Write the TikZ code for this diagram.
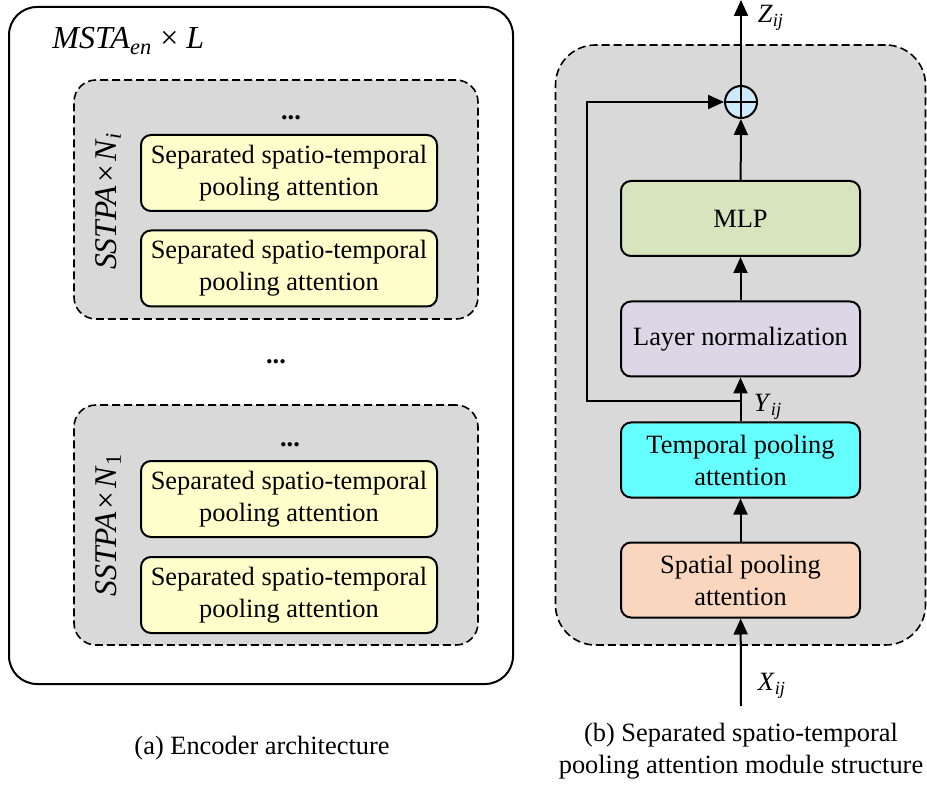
\documentclass[tikz,border=0pt]{standalone}
\usepackage{fontspec}
\setmainfont{Liberation Serif}
\usetikzlibrary{arrows.meta,positioning}

\definecolor{grpgray}{HTML}{D9D9D9}
\definecolor{poolyellow}{HTML}{FFFFCC}
\definecolor{mlpgreen}{HTML}{D7E4BD}
\definecolor{normlilac}{HTML}{DCD7E6}
\definecolor{tempcyan}{HTML}{66FFFF}
\definecolor{spatpeach}{HTML}{F9D6BD}
\definecolor{addblue}{HTML}{CCEBFF}

\newcommand{\itsub}[2]{\textit{#1}\textsubscript{\textit{#2}}}
\newcommand{\bodyfont}{\fontsize{13.2}{16}\selectfont}

\tikzset{
  poolbox/.style={draw, line width=1pt, rounded corners=5pt, fill=poolyellow,
    minimum width=148pt, minimum height=38pt, align=center, font=\bodyfont},
  modbox/.style={draw, line width=1pt, rounded corners=5pt,
    minimum width=119.5pt, minimum height=37.5pt, align=center, font=\bodyfont},
  grpbox/.style={draw, line width=0.8pt, dash pattern=on 4pt off 2pt, fill=grpgray,
    rounded corners=11pt},
  flow/.style={line width=1pt, -{Triangle[length=8pt,width=7pt]}},
  lbl/.style={font=\bodyfont, inner sep=1pt}
}

\begin{document}
\begin{tikzpicture}[x=0.5pt,y=-0.5pt]
	\useasboundingbox (0,0) rectangle (927,786);
	
	% (a) encoder
	\node[draw, line width=1pt, rounded corners=14pt, minimum width=252pt, minimum height=338.5pt] (enc) at (261,345.5) {};
	\node[anchor=base west, font=\fontsize{16}{19}\selectfont, inner sep=0pt] (msta) at (52,49)
		{\itsub{MSTA}{en}\hspace{0.25em}×\hspace{0.25em}\textit{L}};
	
	\node[grpbox, minimum width=202pt, minimum height=119.5pt] (grpi) at (276,199.5) {};
	\node[grpbox, minimum width=202pt, minimum height=120pt] (grpa) at (276,525) {};
	
	\node[poolbox] (pi2) at (289,173) {Separated spatio-temporal\\pooling attention};
	\node[poolbox] (pi1) at (289,268.5) {Separated spatio-temporal\\pooling attention};
	\node[poolbox] (pa2) at (289,499) {Separated spatio-temporal\\pooling attention};
	\node[poolbox] (pa1) at (289,595) {Separated spatio-temporal\\pooling attention};
	
	\node[lbl] (dti) at (291,118) {\textbf{...}};
	\node[lbl] (dtm) at (276,362) {\textbf{...}};
	\node[lbl] (dta) at (290,445) {\textbf{...}};
	
	\node[rotate=90, font=\fontsize{15.8}{18}\selectfont, inner sep=0pt] (nil) at (108,201)
		{\textit{SSTPA}\hspace{0.1em}×\hspace{0.1em}\itsub{N}{i}};
	\node[rotate=90, font=\fontsize{15.8}{18}\selectfont, inner sep=0pt] (nal) at (108,525)
		{\textit{SSTPA}\hspace{0.1em}×\hspace{0.1em}\textit{N}\textsubscript{1}};
	
	\node[lbl] (capa) at (262,748) {(a) Encoder architecture};
	
	% (b) module
	\node[grpbox, rounded corners=20pt, minimum width=185pt, minimum height=300pt] (mod) at (740.5,345) {};
	
	\node[modbox, fill=spatpeach] (spa) at (740.5,580) {Spatial pooling\\attention};
	\node[modbox, fill=tempcyan] (tpa) at (740.5,460) {Temporal pooling\\attention};
	\node[modbox, fill=normlilac] (ln) at (740.5,339) {Layer normalization};
	\node[modbox, fill=mlpgreen] (mlp) at (740.5,218.5) {MLP};
	\node[draw, line width=1pt, circle, fill=addblue, minimum size=16pt, inner sep=0pt,
		path picture={\draw[line width=0.8pt] (path picture bounding box.north) -- (path picture bounding box.south)
			(path picture bounding box.west) -- (path picture bounding box.east);}] (add) at (741,102) {};
	
	\coordinate (xin) at (741,706);
	\coordinate (zout) at (741,0);
	\coordinate (br) at (741,401);
	\coordinate (sk) at (587,401);
	
	\draw[flow] (xin) -- (spa);
	\draw[flow] (spa) -- (tpa);
	\draw[flow] (tpa) -- (ln);
	\draw[flow] (ln) -- (mlp);
	\draw[flow] (mlp) -- (add);
	\draw[flow] (add) -- (zout);
	\draw[flow] (br) -- (sk) |- (add.west);
	
	\node[lbl] (xl) at (772,686) {\itsub{X}{ij}};
	\node[lbl] (yl) at (768,407) {\itsub{Y}{ij}};
	\node[lbl] (zl) at (771,18) {\itsub{Z}{ij}};
	
	\node[lbl, align=center] (capb) at (741,751) {(b) Separated spatio-temporal\\pooling attention module structure};
\end{tikzpicture}
\end{document}
